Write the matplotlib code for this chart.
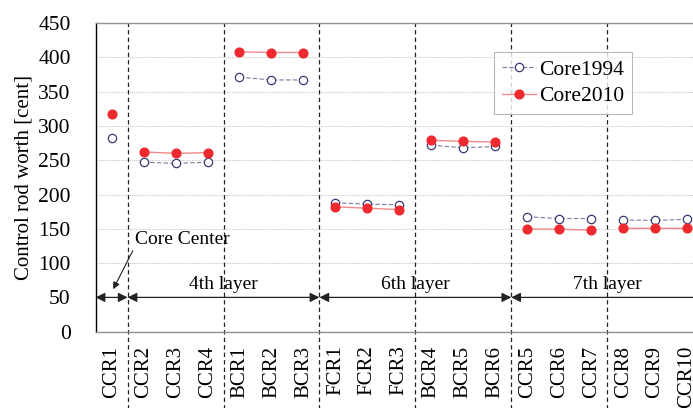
import numpy as np
import matplotlib
matplotlib.use("Agg")
import matplotlib.pyplot as plt
import matplotlib.transforms as mtransforms

categories = ["CCR1", "CCR2", "CCR3", "CCR4", "BCR1", "BCR2", "BCR3",
              "FCR1", "FCR2", "FCR3", "BCR4", "BCR5", "BCR6",
              "CCR5", "CCR6", "CCR7", "CCR8", "CCR9", "CCR10"]
core1994 = [283, 247, 245.5, 247, 371, 367, 367,
            188, 186, 185, 272, 268, 270,
            167.5, 165, 165, 162.8, 162.3, 163.8]
core2010 = [318, 262, 260, 261, 408, 407, 407,
            182, 180, 178, 279, 277.5, 276.5,
            149.7, 149.5, 148, 150.7, 150.7, 150.7]
groups = [[0], [1, 2, 3], [4, 5, 6], [7, 8, 9], [10, 11, 12], [13, 14, 15], [16, 17, 18]]
separators = [0.5, 3.5, 6.5, 9.5, 12.5, 15.5]
layer_spans = [(-0.5, 0.5, ""), (0.5, 6.5, "4th layer"), (6.5, 12.5, "6th layer"), (12.5, 18.5, "7th layer")]

plt.rcParams['font.family'] = ['Liberation Serif', 'DejaVu Serif']

fig = plt.figure(figsize=(6.93, 4.08), dpi=100)
ax = fig.add_axes([0.138, 0.187, 0.8765, 0.7566])

x = np.arange(len(categories))

def grouped(vals):
    xs, ys = [], []
    for g in groups:
        for i in g:
            xs.append(x[i]); ys.append(vals[i])
        xs.append(np.nan); ys.append(np.nan)
    return xs, ys

xs, ys = grouped(core1994)
ax.plot(xs, ys, linestyle=(0, (4, 2)), color='#7a7a9a', linewidth=0.8,
        marker='o', markersize=6.0, markerfacecolor='white',
        markeredgecolor='#3a3a70', markeredgewidth=0.9, label='Core1994', zorder=3)
xs, ys = grouped(core2010)
ax.plot(xs, ys, linestyle='-', color='#f08a8a', linewidth=1.0,
        marker='o', markersize=6.3, markerfacecolor='#ee2a30',
        markeredgecolor='#ee2a30', label='Core2010', zorder=4)

ax.set_xlim(-0.5, len(categories) - 0.5)
ax.set_ylim(0, 450)
ax.set_yticks(np.arange(0, 451, 50))
ax.set_xticks(x)
ax.set_xticklabels(categories, rotation=90, fontsize=15)
ax.tick_params(axis='y', length=0, pad=18, labelsize=15.5)
ax.tick_params(axis='x', length=0, pad=10)
ax.set_ylabel("Control rod worth [cent]", fontsize=15, labelpad=3)

ax.yaxis.grid(True, color='#c8c8c8', linestyle=(0, (1, 1)), linewidth=0.8)
ax.set_axisbelow(True)
ax.spines['left'].set_color('black')
ax.spines['left'].set_linewidth(1.0)
for s in ['top', 'bottom', 'right']:
    ax.spines[s].set_color('#909090')
    ax.spines[s].set_linewidth(1.0)

trans = mtransforms.blended_transform_factory(ax.transData, ax.transAxes)
for s in separators:
    ax.plot([s, s], [-0.3, 1.0], transform=trans, color='#222222',
            linestyle=(0, (3.5, 2.5)), linewidth=0.9, clip_on=False, zorder=2)

for x0, x1, lab in layer_spans:
    ax.annotate("", xy=(x0, 50), xytext=(x1, 50),
                arrowprops=dict(arrowstyle='<|-|>', color='#222222', lw=0.9,
                                mutation_scale=14, shrinkA=0, shrinkB=0),
                annotation_clip=False, zorder=5)
    if lab:
        ax.text((x0 + x1) / 2, 56, lab, ha='center', va='bottom', fontsize=14)

ax.text(0.73, 134, "Core Center", fontsize=14, ha='left', va='center')
ax.annotate("", xy=(0.05, 62), xytext=(0.66, 118),
            arrowprops=dict(arrowstyle='-|>', color='#222222', lw=0.8,
                            mutation_scale=10, shrinkA=0, shrinkB=0))

leg = ax.legend(loc='upper left', bbox_to_anchor=(0.6558, 0.905), fontsize=15.5,
                frameon=True, fancybox=False, edgecolor='#a8a8a8',
                handlelength=1.6, borderpad=0.35, labelspacing=0.3,
                handletextpad=0.15, borderaxespad=0)
leg.get_frame().set_linewidth(0.8)

fig.savefig("out.png", dpi=100)
